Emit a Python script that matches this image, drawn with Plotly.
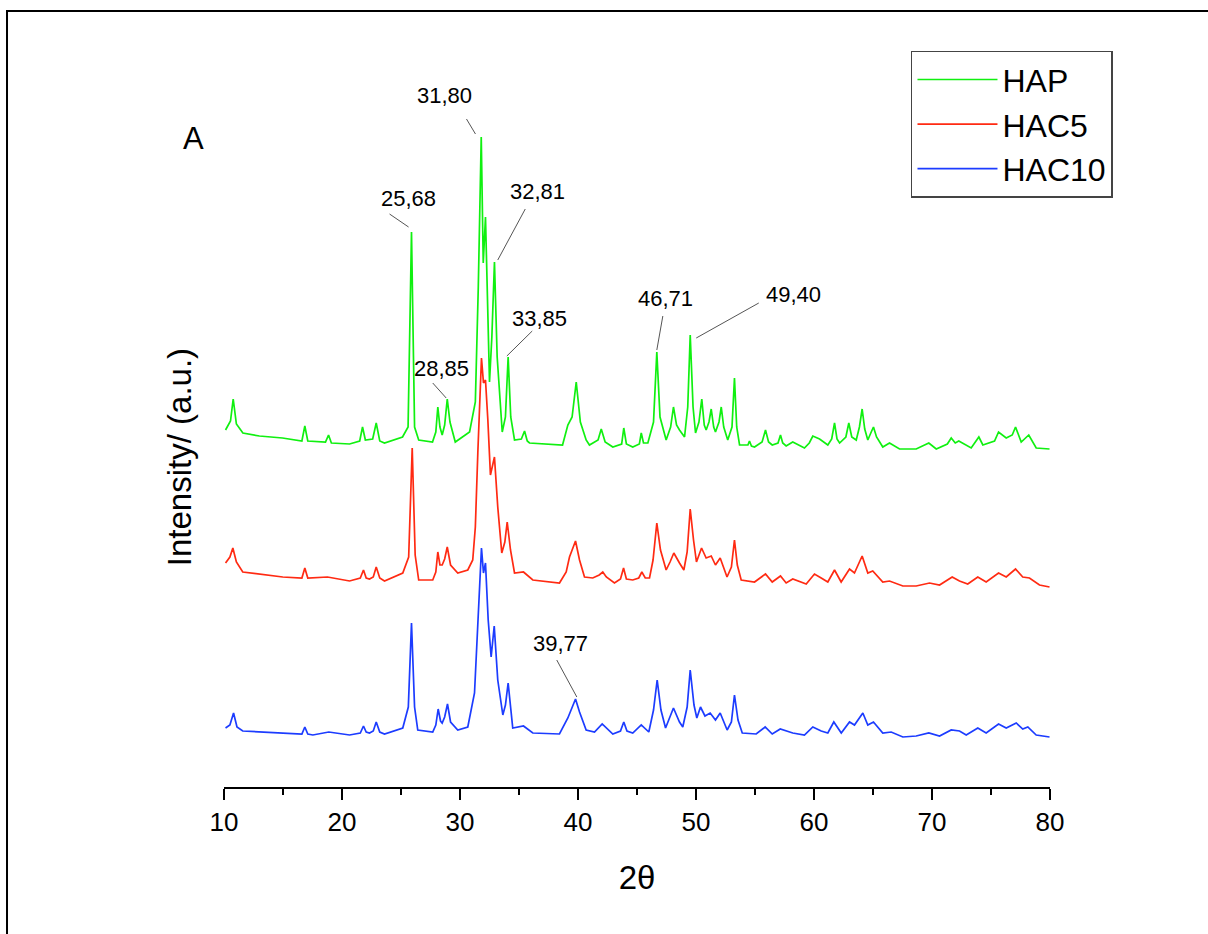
import plotly.graph_objects as go

# ---------------- data ----------------
# [2theta, intensity (a.u., stacked offset included)]
HAP = [
    [10.13, 357], [10.55, 366], [10.78, 388], [11.05, 363], [11.6, 354], [13.0, 351], [14.96, 349],
    [16.6, 346], [16.85, 361], [17.1, 346], [18.6, 345], [18.86, 352], [19.1, 344], [20.64, 343],
    [21.5, 346], [21.74, 360], [21.98, 347], [22.6, 348], [22.9, 364], [23.2, 346], [23.6, 344],
    [25.13, 350], [25.6, 360], [25.89, 555], [26.15, 360], [26.5, 347], [27.67, 345], [27.95, 355],
    [28.12, 380], [28.3, 360], [28.49, 352], [28.7, 362], [28.92, 388], [29.15, 365], [29.6, 345],
    [30.81, 355], [31.3, 385], [31.55, 500], [31.80, 650], [31.97, 524], [32.16, 570], [32.35, 460],
    [32.5, 405], [32.7, 450], [32.92, 525], [33.15, 430], [33.58, 355], [33.85, 370], [34.08, 430],
    [34.3, 370], [34.62, 347], [35.2, 348], [35.47, 356], [35.7, 346], [35.89, 344], [38.69, 342],
    [39.14, 362], [39.5, 370], [39.85, 405], [40.2, 365], [40.69, 347], [40.97, 342], [41.7, 347],
    [41.97, 358], [42.3, 345], [42.95, 340], [43.7, 343], [43.88, 359], [44.1, 343], [44.64, 340],
    [45.2, 343], [45.36, 354], [45.55, 344], [45.92, 344], [46.4, 365], [46.68, 435], [46.95, 370],
    [47.47, 347], [47.85, 360], [48.09, 380], [48.35, 362], [48.6, 357], [49.03, 350], [49.3, 380],
    [49.51, 452], [49.75, 380], [49.96, 354], [50.25, 365], [50.49, 388], [50.7, 362], [50.86, 357],
    [51.1, 365], [51.29, 378], [51.5, 360], [51.65, 355], [51.95, 365], [52.14, 380], [52.35, 360],
    [52.69, 347], [53.05, 360], [53.26, 409], [53.45, 360], [53.69, 342], [54.4, 342], [54.53, 346],
    [54.7, 341], [54.96, 340], [55.6, 345], [55.89, 357], [56.15, 345], [56.46, 342], [56.95, 344],
    [57.16, 352], [57.35, 344], [57.64, 341], [58.2, 345], [59.19, 339], [59.6, 344], [59.9, 351],
    [60.47, 348], [61.17, 342], [61.5, 348], [61.74, 364], [61.95, 348], [62.17, 344], [62.7, 350],
    [62.95, 364], [63.2, 350], [63.58, 347], [63.85, 360], [64.08, 378], [64.3, 358], [64.56, 347],
    [64.85, 355], [65.04, 360], [65.3, 350], [65.83, 340], [66.4, 344], [67.25, 338], [68.66, 338],
    [69.73, 344], [70.36, 338], [71.3, 343], [71.63, 349], [71.97, 344], [72.27, 346], [73.32, 339],
    [73.97, 350], [74.31, 342], [75.3, 346], [75.64, 355], [76.29, 349], [76.8, 352], [77.08, 360],
    [77.56, 345], [78.2, 352], [78.83, 339], [79.96, 338],
]
HAC5 = [
    [10.13, 224], [10.5, 230], [10.75, 239], [11.05, 225], [11.59, 215], [14.98, 210], [16.6, 209],
    [16.85, 219], [17.1, 209], [18.77, 210], [20.64, 206], [21.55, 209], [21.82, 217], [22.05, 209],
    [22.33, 208], [22.65, 210], [22.9, 220], [23.2, 209], [23.6, 206], [25.15, 214], [25.65, 230],
    [25.95, 339], [26.2, 232], [26.5, 207], [27.69, 207], [27.95, 215], [28.12, 235], [28.3, 222],
    [28.49, 222], [28.7, 228], [28.92, 240], [29.2, 222], [29.81, 214], [30.66, 217], [31.08, 227],
    [31.3, 260], [31.51, 334], [31.82, 429], [31.99, 404], [32.16, 407], [32.36, 367], [32.58, 312],
    [32.92, 330], [33.2, 280], [33.54, 234], [33.8, 245], [34.0, 265], [34.28, 237], [34.62, 214],
    [35.38, 215], [36.17, 207], [38.43, 204], [39.0, 215], [39.28, 230], [39.79, 246], [40.13, 227],
    [40.55, 210], [41.25, 209], [41.8, 212], [42.1, 215], [42.4, 210], [43.09, 204], [43.6, 208],
    [43.86, 219], [44.1, 208], [44.64, 207], [45.15, 209], [45.41, 215], [45.7, 209], [46.06, 209],
    [46.36, 227], [46.68, 264], [46.99, 237], [47.47, 217], [47.8, 225], [48.12, 234], [48.6, 224],
    [48.97, 217], [49.25, 235], [49.51, 278], [49.79, 247], [50.04, 225], [50.47, 239], [50.86, 229],
    [51.29, 231], [51.65, 222], [52.05, 229], [52.63, 210], [53.0, 220], [53.26, 247], [53.5, 222],
    [53.83, 207], [54.96, 205], [55.89, 213], [56.46, 205], [57.16, 211], [57.64, 204], [58.2, 208],
    [59.34, 203], [60.04, 213], [60.61, 209], [61.17, 205], [61.74, 217], [62.3, 205], [63.01, 218],
    [63.43, 214], [64.08, 231], [64.56, 214], [64.98, 216], [65.83, 205], [66.4, 206], [67.53, 201],
    [68.66, 201], [69.79, 204], [70.64, 202], [71.71, 210], [72.33, 206], [73.03, 203], [73.88, 210],
    [74.59, 205], [75.64, 214], [76.29, 210], [77.08, 218], [77.69, 210], [78.26, 209], [79.11, 202],
    [79.96, 200],
]
HAC10 = [
    [10.13, 59], [10.5, 62], [10.81, 74], [11.1, 60], [11.59, 56], [14.98, 54], [16.6, 53],
    [16.85, 60], [17.1, 53], [17.53, 52], [18.88, 55], [20.64, 52], [21.55, 54], [21.82, 61],
    [22.05, 55], [22.33, 54], [22.65, 56], [22.9, 65], [23.2, 55], [23.6, 53], [25.15, 59],
    [25.62, 80], [25.89, 164], [26.15, 80], [26.42, 57], [27.69, 55], [27.95, 62], [28.15, 78],
    [28.35, 66], [28.49, 64], [28.7, 70], [28.94, 83], [29.2, 65], [29.81, 57], [30.66, 60],
    [31.23, 94], [31.59, 184], [31.82, 239], [31.99, 214], [32.16, 224], [32.39, 167], [32.64, 130],
    [32.9, 161], [33.2, 107], [33.63, 72], [33.85, 82], [34.08, 104], [34.32, 77], [34.47, 59],
    [35.38, 61], [36.17, 54], [38.43, 53], [39.14, 69], [39.79, 88], [40.13, 75], [40.69, 57],
    [41.4, 55], [42.05, 63], [42.95, 53], [43.6, 56], [43.88, 65], [44.15, 56], [44.64, 54],
    [45.36, 62], [46.0, 55], [46.4, 77], [46.71, 107], [47.03, 77], [47.42, 59], [48.09, 79],
    [48.6, 65], [48.88, 60], [49.25, 80], [49.51, 117], [49.83, 82], [50.07, 69], [50.38, 80],
    [50.76, 71], [51.2, 74], [51.65, 67], [52.05, 74], [52.64, 57], [53.0, 65], [53.26, 92],
    [53.56, 67], [53.92, 54], [55.1, 53], [55.86, 60], [56.46, 53], [57.14, 58], [58.2, 54],
    [59.19, 52], [59.9, 60], [60.61, 56], [61.17, 54], [61.68, 65], [62.31, 54], [63.01, 65],
    [63.43, 62], [64.14, 74], [64.56, 62], [65.04, 65], [65.83, 54], [66.54, 55], [67.53, 50],
    [68.66, 51], [69.73, 54], [70.64, 51], [71.63, 57], [72.33, 56], [72.9, 52], [73.88, 59],
    [74.59, 54], [75.64, 63], [76.29, 59], [77.14, 64], [77.69, 58], [78.12, 60], [78.83, 52],
    [79.96, 50],
]

series_names = ["HAP", "HAC5", "HAC10"]
series_colors = ["#10F010", "#FF2A12", "#1C3CFF"]

x_ticks = [10, 20, 30, 40, 50, 60, 70, 80]

# peak labels: text, label position (2theta, y), leader line start -> end
peak_labels = ["31,80", "25,68", "32,81", "33,85", "28,85", "46,71", "49,40", "39,77"]
label_x = [28.69, 25.64, 36.57, 36.74, 28.46, 47.39, 58.29, 38.52]
label_y = [692, 589, 596, 469, 419, 489, 493, 144]
leader_x0 = [30.55, 24.03, 35.53, 36.12, 27.69, 47.19, 55.32, 38.20]
leader_y0 = [668, 573, 578, 456, 404, 471, 484, 127]
leader_x1 = [31.31, 25.64, 33.20, 33.97, 28.83, 46.68, 50.02, 39.90]
leader_y1 = [653, 560, 527, 431, 389, 437, 449, 90]

# ---------------- figure ----------------
FONT = "Liberation Sans, Arial, sans-serif"
fig = go.Figure()
for name, pts, col in zip(series_names, [HAP, HAC5, HAC10], series_colors):
    fig.add_trace(go.Scatter(x=[p[0] for p in pts], y=[p[1] for p in pts], mode="lines",
                             name=name, line=dict(color=col, width=1.7)))

shapes = []
for x0, y0, x1, y1 in zip(leader_x0, leader_y0, leader_x1, leader_y1):
    shapes.append(dict(type="line", xref="x", yref="y", x0=x0, y0=y0, x1=x1, y1=y1,
                       line=dict(color="#555555", width=1)))
# outer frame of the figure
shapes.append(dict(type="rect", xref="paper", yref="paper",
                   x0=-0.2627, x1=1.2, y0=-0.25, y1=1.0117,
                   line=dict(color="black", width=2)))

annotations = []
for t, x, y in zip(peak_labels, label_x, label_y):
    annotations.append(dict(text=t, x=x, y=y, xref="x", yref="y", showarrow=False,
                            xanchor="center", yanchor="middle",
                            font=dict(family=FONT, size=22, color="black")))
annotations.append(dict(text="A", x=-0.0375, y=0.845, xref="paper", yref="paper",
                        xanchor="center", yanchor="middle",
                        showarrow=False, font=dict(family=FONT, size=31, color="black")))
annotations.append(dict(text="Intensity/ (a.u.)", x=-0.0545, y=0.43, xref="paper", yref="paper",
                        xanchor="center", yanchor="middle", textangle=-90,
                        showarrow=False, font=dict(family=FONT, size=33, color="black")))

fig.update_layout(
    width=1208, height=934,
    margin=dict(l=224, r=158, t=20, b=147),
    paper_bgcolor="white", plot_bgcolor="white",
    font=dict(family=FONT, color="black"),
    showlegend=True,
    legend=dict(x=0.8317, y=0.96, xanchor="left", yanchor="top",
                bordercolor="#444444", borderwidth=1.5, bgcolor="white",
                font=dict(family=FONT, size=32, color="black"),
                itemwidth=80, tracegroupgap=0),
    shapes=shapes,
    annotations=annotations,
    xaxis=dict(range=[10, 80], tickmode="array", tickvals=x_ticks,
               ticktext=[str(v) for v in x_ticks],
               showline=True, linecolor="black", linewidth=2, mirror=False,
               ticks="outside", ticklen=11, tickwidth=2, tickcolor="black",
               minor=dict(dtick=5, tick0=10, ticks="outside", ticklen=6, tickwidth=2, tickcolor="black"),
               showgrid=False, zeroline=False,
               tickfont=dict(family=FONT, size=26, color="black"),
               title=dict(text="2θ", font=dict(family=FONT, size=33, color="black"), standoff=30)),
    yaxis=dict(range=[0, 767], showline=False, showticklabels=False, ticks="",
               showgrid=False, zeroline=False, title=dict(text="")),
)

fig.write_html("out.html")
